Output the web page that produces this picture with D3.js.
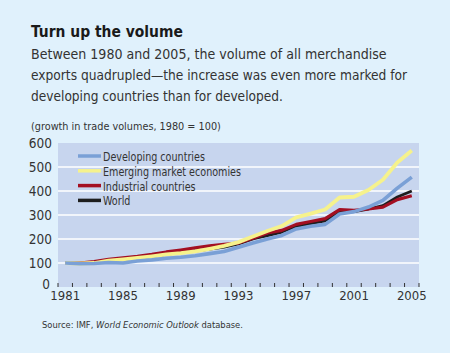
<!DOCTYPE html>
<html>
<head>
<meta charset="utf-8">
<script src="https://cdn.jsdelivr.net/npm/d3@7"></script>
<style>
  body { margin: 0; background: #e0f1fc; }
  svg text { font-family: "DejaVu Sans Condensed", "Liberation Sans", sans-serif; fill: #333; }
</style>
</head>
<body>
<div id="chart"></div>
<script>
const years = [1981, 1982, 1983, 1984, 1985, 1986, 1987, 1988, 1989, 1990, 1991, 1992, 1993,
  1994, 1995, 1996, 1997, 1998, 1999, 2000, 2001, 2002, 2003, 2004, 2005];
const developing = [100, 97, 98, 102, 100, 108, 113, 120, 124, 130, 139, 148, 166,
  183, 200, 215, 242, 253, 261, 304, 314, 333, 361, 412, 458];
const emerging = [100, 98, 100, 110, 115, 121, 128, 136, 141, 148, 159, 171, 187,
  210, 233, 254, 290, 306, 323, 373, 376, 404, 447, 519, 569];
const industrial = [100, 100, 106, 115, 122, 128, 136, 146, 154, 163, 171, 178, 183,
  203, 225, 236, 261, 273, 285, 322, 319, 325, 333, 364, 380];
const world = [100, 99, 102, 110, 115, 121, 128, 136, 143, 150, 158, 166, 180,
  200, 214, 229, 253, 264, 276, 311, 314, 325, 339, 375, 400];
const yTicks = [0, 100, 200, 300, 400, 500, 600];
const xLabels = [1981, 1985, 1989, 1993, 1997, 2001, 2005];

const series = [
  { name: 'World', values: world, color: '#1e1e1e', width: 2.8 },
  { name: 'Industrial countries', values: industrial, color: '#a30f22', width: 3.2 },
  { name: 'Emerging market economies', values: emerging, color: '#f6f28c', width: 3.8 },
  { name: 'Developing countries', values: developing, color: '#7aa0d6', width: 3.6 }
];
const legendOrder = ['Developing countries', 'Emerging market economies', 'Industrial countries', 'World'];

const width = 450, height = 353;
const plot = { left: 58, right: 419, top: 143, bottom: 287 };

const svg = d3.select('#chart').append('svg')
  .attr('width', width)
  .attr('height', height);

svg.append('rect').attr('width', width).attr('height', height).attr('fill', '#e0f1fc');

// shrink font size until the text fits the width seen in the picture
function fitText(sel, size, target) {
  sel.attr('font-size', size);
  const w = sel.node().getComputedTextLength();
  if (w > 0) sel.attr('font-size', (size * target / w).toFixed(2));
  return sel;
}

// heading
fitText(svg.append('text').attr('x', 31).attr('y', 37)
  .attr('font-weight', 'bold').style('fill', '#1a1a1a')
  .text('Turn up the volume'), 18, 152);

const subtitle = [
  ['Between 1980 and 2005, the volume of all merchandise', 59, 356],
  ['exports quadrupled\u2014the increase was even more marked for', 80, 376],
  ['developing countries than for developed.', 101, 252]
];
subtitle.forEach(([t, y, len]) => {
  fitText(svg.append('text').attr('x', 31).attr('y', y).text(t), 15.5, len);
});

fitText(svg.append('text').attr('x', 31).attr('y', 130)
  .text('(growth in trade volumes, 1980 = 100)'), 12.5, 190);

const x = d3.scaleBand().domain(years).range([plot.left, plot.right]).padding(0);
const y = d3.scaleLinear().domain([0, 600]).range([plot.bottom, plot.top]);

svg.append('rect')
  .attr('x', plot.left).attr('y', plot.top)
  .attr('width', plot.right - plot.left).attr('height', plot.bottom - plot.top)
  .attr('fill', '#c7d5ee');

// gridlines
svg.append('g').selectAll('line')
  .data(yTicks.filter(d => d > 0 && d < 600))
  .enter().append('line')
  .attr('x1', plot.left).attr('x2', plot.right)
  .attr('y1', d => y(d)).attr('y2', d => y(d))
  .attr('stroke', '#ffffff').attr('stroke-width', 1.6);

// y labels
svg.append('g').selectAll('text')
  .data(yTicks)
  .enter().append('text')
  .attr('x', d => d === 0 ? 50 : 52).attr('y', d => d === 0 ? y(d) + 2 : y(d) + 4.5)
  .attr('text-anchor', 'end').attr('font-size', 13.5)
  .text(d => d);

// x ticks at year boundaries
const edges = years.map(d => x(d)).concat([plot.right]);
svg.append('g').selectAll('line')
  .data(edges)
  .enter().append('line')
  .attr('x1', d => d).attr('x2', d => d)
  .attr('y1', plot.bottom - 4).attr('y2', plot.bottom)
  .attr('stroke', '#333').attr('stroke-width', 1);

svg.append('g').selectAll('text')
  .data(xLabels)
  .enter().append('text')
  .attr('x', d => x(d) + x.bandwidth() / 2).attr('y', 300)
  .attr('text-anchor', 'middle').attr('font-size', 13)
  .text(d => d);

// lines
const line = d3.line()
  .x((d, i) => x(years[i]) + x.bandwidth() / 2)
  .y(d => y(d));

svg.append('g').selectAll('path')
  .data(series)
  .enter().append('path')
  .attr('d', d => line(d.values))
  .attr('fill', 'none')
  .attr('stroke', d => d.color)
  .attr('stroke-width', d => d.width)
  .attr('stroke-linejoin', 'round');

// legend: tall narrow lettering, so squeeze a normal size sideways
const legend = svg.append('g').attr('transform', 'translate(78,156)');
legendOrder.forEach((name, i) => {
  const s = series.find(d => d.name === name);
  const row = legend.append('g').attr('transform', `translate(0,${i * 14.8})`);
  row.append('line').attr('x1', 0).attr('x2', 23).attr('y1', 0).attr('y2', 0)
    .attr('stroke', s.color).attr('stroke-width', 3.5);
  const t = row.append('text').attr('x', 25).attr('y', 5).attr('font-size', 13).text(name);
  const w = t.node().getComputedTextLength();
  t.attr('textLength', (w * 0.82).toFixed(1)).attr('lengthAdjust', 'spacingAndGlyphs');
});

// source
const src = svg.append('text').attr('x', 42).attr('y', 328);
src.append('tspan').text('Source: IMF, ');
src.append('tspan').attr('font-style', 'italic').text('World Economic Outlook');
src.append('tspan').text(' database.');
fitText(src, 11, 201);
</script>
</body>
</html>
